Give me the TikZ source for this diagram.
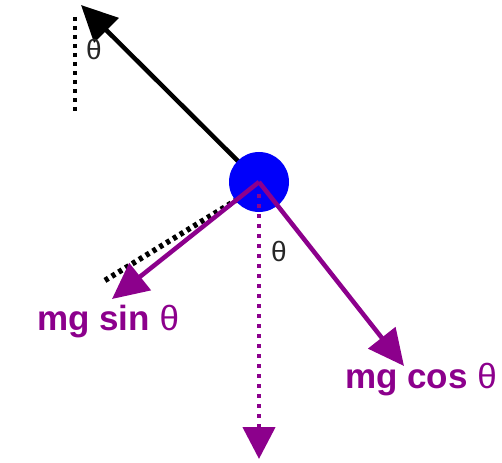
\documentclass[tikz,border=0pt]{standalone}
\usepackage{fontspec}
\setmainfont{Liberation Sans}
\usetikzlibrary{arrows.meta}
\definecolor{vio}{RGB}{140,0,140}
\definecolor{ballblue}{RGB}{0,0,250}
\begin{document}
\begin{tikzpicture}[x=1pt,y=-1pt,
  force/.style={line width=4.5pt,-{Triangle[length=36pt,width=34pt]}},
  dots/.style={line width=4.5pt,dash pattern=on 4pt off 5pt},
  lbl/.style={text=vio,font=\fontsize{35}{35}\selectfont\bfseries,inner sep=0pt,anchor=base},
  ang/.style={font=\fontsize{28}{28}\selectfont,text=black!85,inner sep=0pt}]
\useasboundingbox (0,0) rectangle (502,462);
\coordinate (c) at (259,182);
\coordinate (tension) at (81,5);
\coordinate (vtop) at (75,17);
\coordinate (vbot) at (75,113);
\coordinate (slA) at (238,199);
\coordinate (slB) at (104,281);
\coordinate (sinend) at (112,299);
\coordinate (cosend) at (404,366);
\coordinate (gtop) at (259,194);
\coordinate (gend) at (259,459);
\draw[dots,black] (vtop) -- (vbot);
\draw[force,black] (c) -- (tension);
\node[ang] (th1) at (94,50) {θ};
\draw[dots,black,line width=5.5pt,dash pattern=on 4pt off 4pt] (slA) -- (slB);
\node[circle,fill=ballblue,minimum size=60pt,inner sep=0pt] (ball) at (c) {};
\draw[force,vio] (c) -- (sinend);
\draw[force,vio] (c) -- (cosend);
\draw[dots,vio,line width=4.5pt,dash pattern=on 4pt off 6pt,-{Triangle[length=32pt,width=32pt]}] (gtop) -- (gend);
\node[ang] (th2) at (279,251) {θ};
\node[lbl] (sinl) at (108,330) {mg sin \mdseries θ};
\node[lbl] (cosl) at (421,388) {mg cos \mdseries θ};
\end{tikzpicture}
\end{document}
